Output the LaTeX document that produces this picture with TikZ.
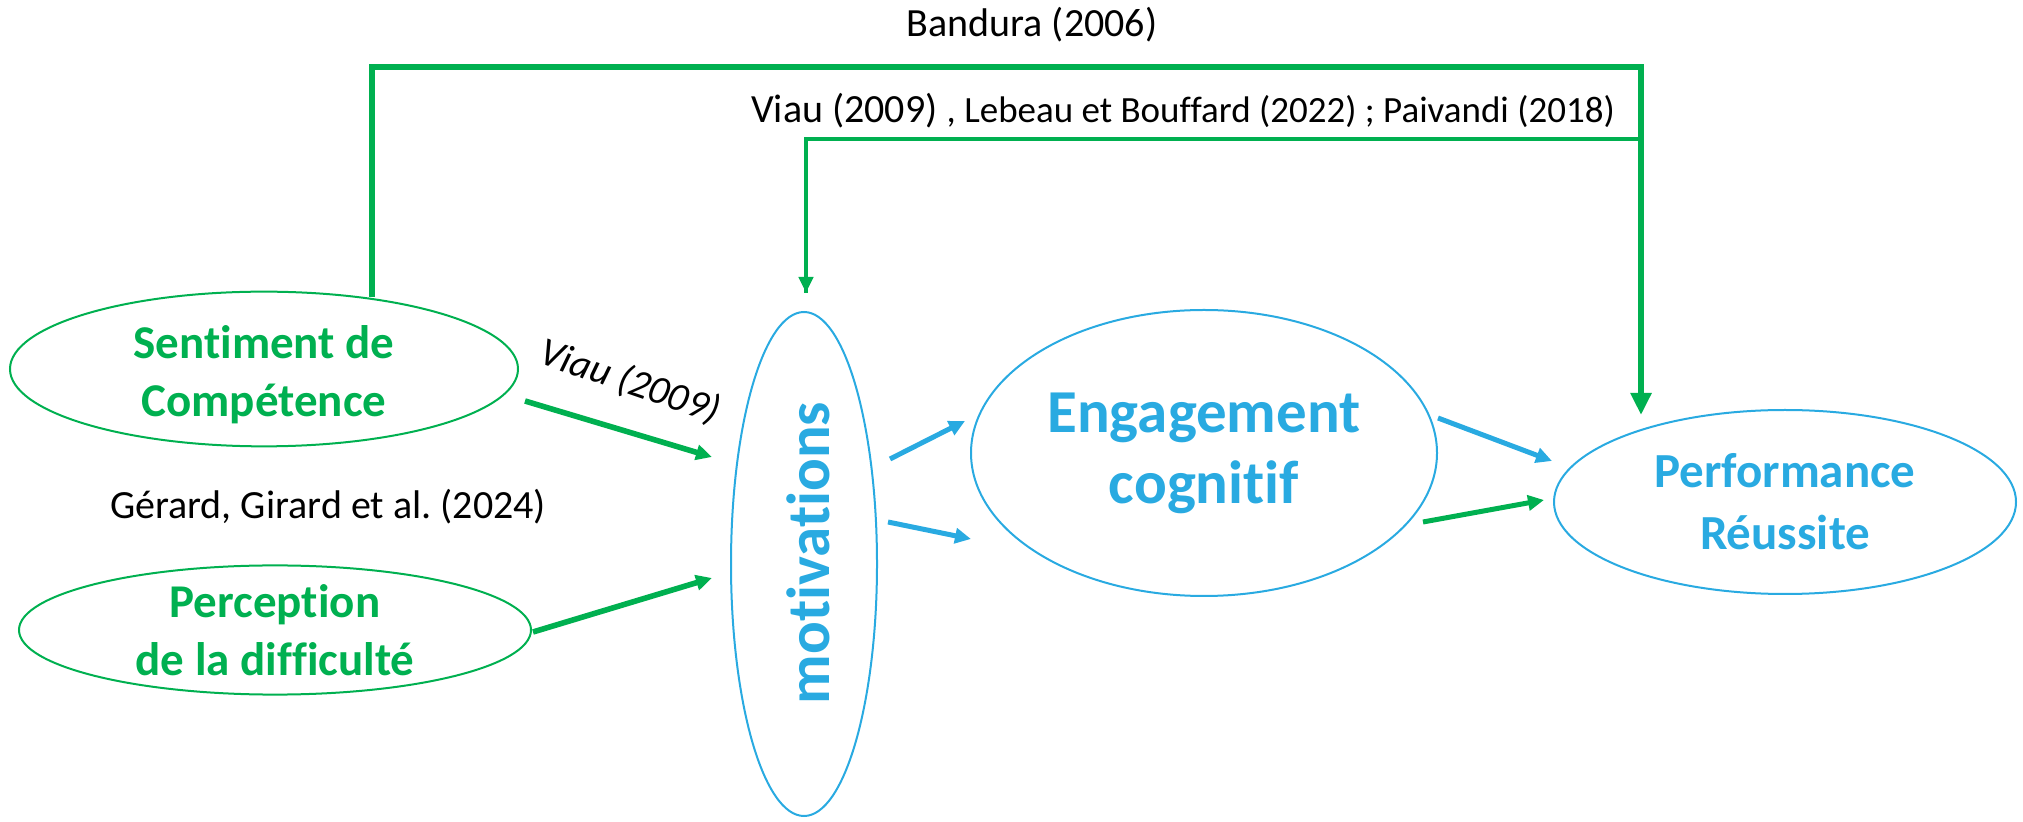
\documentclass[tikz,border=0pt]{standalone}
\usepackage{fontspec}
\setmainfont{Carlito}[Ligatures=NoCommon]
\usetikzlibrary{shapes.geometric,arrows.meta,calc}
\definecolor{gr}{RGB}{0,176,80}
\definecolor{bl}{RGB}{41,170,225}
\begin{document}
\frenchspacing
\begin{tikzpicture}[x=0.5pt,y=-0.5pt,
  ell/.style={ellipse,draw,line width=1pt,inner sep=0pt,align=center},
  gell/.style={ell,draw=gr,text=gr,font=\fontsize{23.5}{29}\selectfont\bfseries},
  bell/.style={ell,draw=bl,text=bl},
  ref/.style={font=\fontsize{20}{24}\selectfont,inner sep=0pt},
  garrow/.style={draw=gr,line width=2.8pt,-{Triangle[length=8pt,width=7.5pt]}},
  barrow/.style={draw=bl,line width=2.5pt,-{Triangle[length=8pt,width=7.5pt]}},
  gline/.style={draw=gr,line width=2.8pt}
]
\useasboundingbox (0,0) rectangle (2023,822);

% nodes
\node[gell,minimum width=254pt,minimum height=72pt] (sent) at (264,369) {\rule{0pt}{22pt}Sentiment de\\Compétence};
\node[gell,minimum width=256pt,minimum height=64pt] (perc) at (275,630) {Perception\\de la difficulté};
\node[bell,minimum width=73pt,minimum height=252pt] (mot) at (804,564) {};
\node[text=bl,font=\fontsize{30.5}{36}\selectfont\bfseries,rotate=90,inner sep=0pt] (motl) at (808,553) {motivations};
\node[bell,minimum width=233pt,minimum height=143pt,font=\fontsize{30.5}{35.5}\selectfont\bfseries] (eng) at (1204,453) {Engagement\\cognitif};
\node[bell,minimum width=231pt,minimum height=92pt,font=\fontsize{24.5}{31}\selectfont\bfseries] (perf) at (1785,502) {Performance\\Réussite};

% labels
\node[ref] (band) at (1032,25) {Bandura (2006)};
\node[ref] (viaul) at (1183,111) {Viau (2009) {\fontsize{18.5}{22}\selectfont, Lebeau et Bouffard (2022) ; Paivandi (2018)}};
\node[ref] (gir) at (328,507) {Gérard, Girard et al. (2024)};
\node[ref,font=\fontsize{20}{24}\selectfont\itshape,rotate=-19] (viau) at (630,382) {Viau (2009)};

% top connectors
\coordinate (j) at (1641,139);
\draw[gline,line cap=rect] ($(sent.center)+(108,-75)$) -- ++(0,-227) -| (j);
\draw[draw=gr,line width=3pt,-{Triangle[length=11pt,width=10pt]}] (j) -- ($(perf.center)+(-144,-87)$);
\draw[gline,line width=2.4pt] (j) -| ($(mot.north)+(2,-18)$);
\draw[draw=gr,line width=2pt,-{Triangle[length=8pt,width=7pt]}] (806,139) -- ($(mot.north)+(2,-18)$);

% arrows
\draw[garrow] ($(sent.center)+(261,32)$) -- ($(mot.center)+(-92,-107)$);
\draw[garrow] ($(perc.center)+(258,2)$) -- ($(mot.center)+(-92,14)$);
\draw[barrow] ($(mot.center)+(86,-105)$) -- ($(eng.center)+(-239,-32)$);
\draw[barrow] ($(mot.center)+(84,-42)$) -- ($(eng.center)+(-233,86)$);
\draw[barrow] ($(eng.center)+(234,-35)$) -- ($(perf.center)+(-233,-41)$);
\draw[garrow,line width=2.5pt] ($(eng.center)+(219,69)$) -- ($(perf.center)+(-241,-2)$);
\end{tikzpicture}
\end{document}
